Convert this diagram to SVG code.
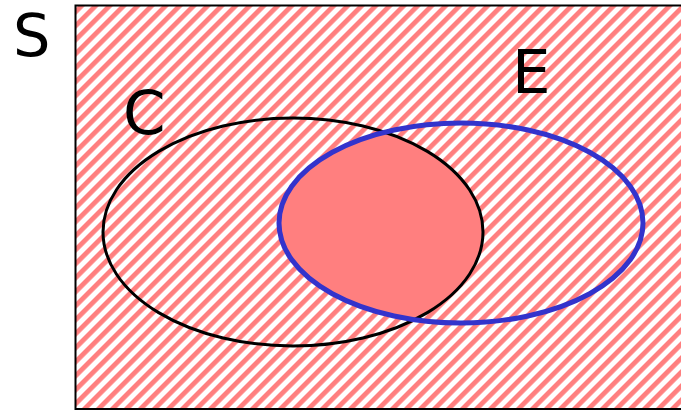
<svg xmlns="http://www.w3.org/2000/svg" width="681" height="411" viewBox="0 0 681 411">
<style>
.lbl{font-family:"DejaVu Sans",sans-serif;font-size:61px;fill:#000}
</style>
<defs>
<pattern id="hatch" patternUnits="userSpaceOnUse" width="9.9" height="9.9" patternTransform="rotate(-45)">
<rect x="0" y="0" width="9.9" height="4.8" fill="#ff7f7f"/>
</pattern>
<clipPath id="clipC"><ellipse cx="293" cy="232" rx="190" ry="114"/></clipPath>
</defs>
<rect width="681" height="411" fill="#fff"/>
<g id="S">
<rect x="75.5" y="5.5" width="620" height="403.5" fill="url(#hatch)" stroke="#000" stroke-width="2"/>
<text class="lbl" x="13" y="56" style="font-size:59px">S</text>
</g>
<g id="inter">
<ellipse cx="461" cy="223" rx="182" ry="100" fill="#ff7f7f" clip-path="url(#clipC)"/>
</g>
<g id="C">
<ellipse cx="293" cy="232" rx="190" ry="114" fill="none" stroke="#000" stroke-width="3"/>
<text class="lbl" x="123" y="134">C</text>
</g>
<g id="E">
<ellipse cx="461" cy="223" rx="182" ry="100" fill="none" stroke="#3333cc" stroke-width="5"/>
<text class="lbl" x="512" y="93">E</text>
</g>
<g id="connectors"/>
</svg>
